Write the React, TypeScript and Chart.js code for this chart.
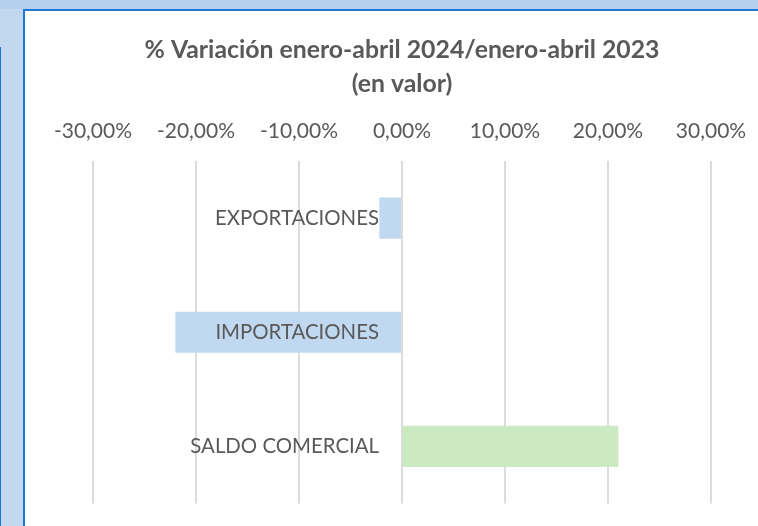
import React, { useEffect, useRef } from "react";
import { Chart, registerables } from "chart.js";

Chart.register(...registerables);

const categories = ["EXPORTACIONES", "IMPORTACIONES", "SALDO COMERCIAL"];
const variation = [-2.2, -22.0, 21.0];
const barColors = ["#C1D8F1", "#C1D8F1", "#CCEAC1"];
const xTicks = [-30, -20, -10, 0, 10, 20, 30];
const titleLines = ["% Variación enero-abril 2024/enero-abril 2023", "(en valor)"];

const TEXT = "#595959";
const FONT = "Lato, 'Open Sans', sans-serif";

const categoryLabels = {
  id: "categoryLabels",
  afterDatasetsDraw(chart: any) {
    const { ctx, scales } = chart;
    const x0 = scales.x.getPixelForValue(0);
    ctx.save();
    ctx.font = `20.4px ${FONT}`;
    ctx.fillStyle = TEXT;
    ctx.textAlign = "right";
    ctx.textBaseline = "middle";
    categories.forEach((c, i) => {
      ctx.fillText(c, x0 - 23, scales.y.getPixelForValue(i));
    });
    ctx.restore();
  },
};

export default function App() {
  const ref = useRef<HTMLCanvasElement>(null);
  useEffect(() => {
    if (!ref.current) return;
    const chart = new Chart(ref.current, {
      type: "bar",
      data: {
        labels: categories,
        datasets: [
          {
            data: variation,
            backgroundColor: barColors,
            borderWidth: 0,
            barPercentage: 0.36,
            categoryPercentage: 1,
          },
        ],
      },
      options: {
        indexAxis: "y",
        animation: false,
        responsive: false,
        events: [],
        layout: { padding: { left: 93, right: 47, top: 0, bottom: 22.5 } },
        plugins: {
          legend: { display: false },
          tooltip: { enabled: false },
          title: {
            display: true,
            text: titleLines,
            color: TEXT,
            font: { family: FONT, size: 24.8, weight: "bold", lineHeight: "34px" },
            padding: { top: 33, bottom: 0.8 },
          },
        },
        scales: {
          x: {
            position: "top",
            min: -30,
            max: 30,
            afterBuildTicks: (axis: any) => {
              axis.ticks = xTicks.map((v) => ({ value: v }));
            },
            afterFit: (axis: any) => {
              axis.paddingLeft = 0;
              axis.paddingRight = 0;
            },
            ticks: {
              color: TEXT,
              font: { family: FONT, size: 21 },
              padding: 17,
              maxRotation: 0,
              callback: (v: any) => Number(v).toFixed(2).replace(".", ",") + "%",
            },
            grid: { color: "#DCDCDC", lineWidth: 2, drawTicks: false },
            border: { display: false },
          },
          y: {
            display: false,
            offset: true,
            grid: { display: false },
          },
        },
      },
      plugins: [categoryLabels],
    });
    return () => chart.destroy();
  }, []);

  return (
    <div
      style={{
        position: "fixed",
        left: 0,
        top: 0,
        width: 758,
        height: 526,
        overflow: "hidden",
        background: "#C2D8EF",
      }}
    >
      <div
        style={{
          position: "absolute",
          left: 0,
          top: 0,
          width: 758,
          height: 9,
          background: "#B5D0EE",
        }}
      />
      <div
        style={{
          position: "absolute",
          left: 0,
          top: 47,
          width: 1,
          height: 479,
          background: "#1E78D6",
        }}
      />
      <div
        style={{
          position: "absolute",
          left: 23,
          top: 9,
          width: 760,
          height: 530,
          boxSizing: "border-box",
          border: "2px solid #1E78D6",
          background: "#FFFFFF",
        }}
      />
      <canvas
        ref={ref}
        width={758}
        height={526}
        style={{ position: "absolute", left: 0, top: 0, width: 758, height: 526 }}
      />
    </div>
  );
}
